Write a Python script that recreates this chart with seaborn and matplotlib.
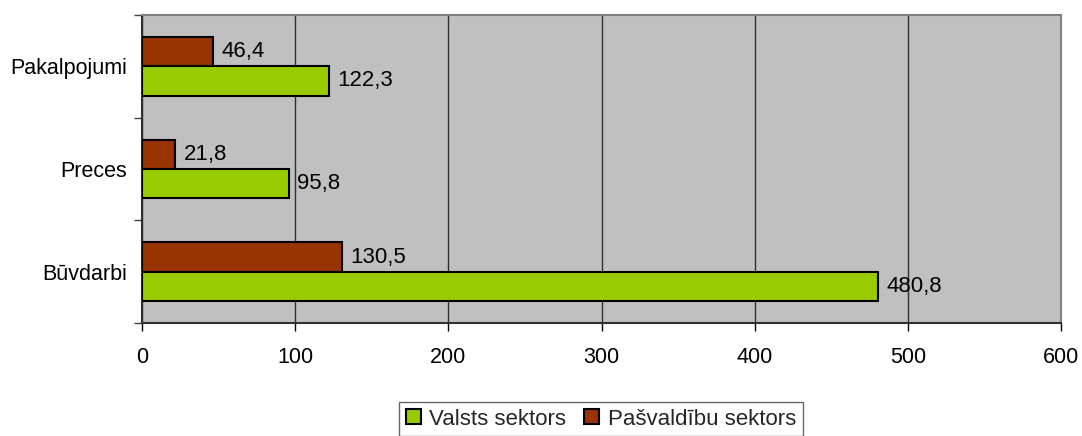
import matplotlib
matplotlib.use("Agg")
import matplotlib.pyplot as plt
import seaborn as sns
import pandas as pd
from matplotlib.patches import Patch
from matplotlib.ticker import FixedLocator

categories = ["Pakalpojumi", "Preces", "Būvdarbi"]
valsts = [122.3, 95.8, 480.8]
pasvaldibu = [46.4, 21.8, 130.5]
series_names = ["Valsts sektors", "Pašvaldību sektors"]
xticks = [0, 100, 200, 300, 400, 500, 600]

colors = {"Valsts sektors": "#99CC00", "Pašvaldību sektors": "#993300"}

df = pd.DataFrame({
    "cat": categories * 2,
    "val": pasvaldibu + valsts,
    "series": [series_names[1]] * 3 + [series_names[0]] * 3,
})

sns.set_theme(style="white")
plt.rcParams["font.family"] = ["Liberation Sans", "DejaVu Sans"]

fig = plt.figure(figsize=(10.82, 4.36), dpi=100)
ax = fig.add_axes([142/1082, 1-323/436, (1061-142)/1082, (323-15)/436])
ax.set_facecolor("#C0C0C0")

sns.barplot(data=df, y="cat", x="val", hue="series", order=categories,
            hue_order=[series_names[1], series_names[0]], palette=colors,
            saturation=1, orient="h", width=0.57, edgecolor="black", linewidth=1.5,
            ax=ax, legend=False, zorder=3)

for cont in ax.containers:
    vals = [p.get_width() for p in cont]
    ax.bar_label(cont, labels=[f"{v:.1f}".replace(".", ",") for v in vals],
                 padding=6, fontsize=16, color="black", zorder=4)

ax.set_xlim(0, 600)
ax.set_ylim(2.5, -0.5)
ax.set_xticks(xticks)
ax.set_xticklabels([str(t) for t in xticks], fontsize=15.5)
ax.set_yticks(range(len(categories)))
ax.set_yticklabels(categories, fontsize=15.5)
ax.yaxis.set_minor_locator(FixedLocator([-0.5, 0.5, 1.5, 2.5]))
ax.tick_params(axis="y", which="major", length=0, pad=11, colors="black")
ax.tick_params(axis="y", which="minor", length=6, width=1, color="#404040", left=True)
ax.tick_params(axis="x", which="major", length=6, width=1, color="#404040",
               pad=11, bottom=True, colors="black")
ax.tick_params(axis="x", colors="black")
ax.set_xlabel("")
ax.set_ylabel("")

ax.grid(axis="x", color="#303030", linewidth=1, zorder=1)
ax.grid(axis="y", visible=False)
ax.set_axisbelow(True)

for side in ["left", "bottom"]:
    ax.spines[side].set_color("#303030")
    ax.spines[side].set_linewidth(1.5)
for side in ["top", "right"]:
    ax.spines[side].set_color("#808080")
    ax.spines[side].set_linewidth(1.5)
    ax.spines[side].set_visible(True)

handles = [Patch(facecolor=colors[s], edgecolor="black", linewidth=1.5) for s in series_names]
leg = fig.legend(handles, series_names, loc="center", bbox_to_anchor=(601/1082, 1-419/436),
                 ncol=2, fontsize=16, frameon=True, fancybox=False,
                 handlelength=0.65, handleheight=0.65, handletextpad=0.4,
                 columnspacing=0.8, borderpad=0.3)
leg.get_frame().set_edgecolor("#404040")
leg.get_frame().set_linewidth(1)

fig.savefig("out.png", dpi=100, facecolor="white")
